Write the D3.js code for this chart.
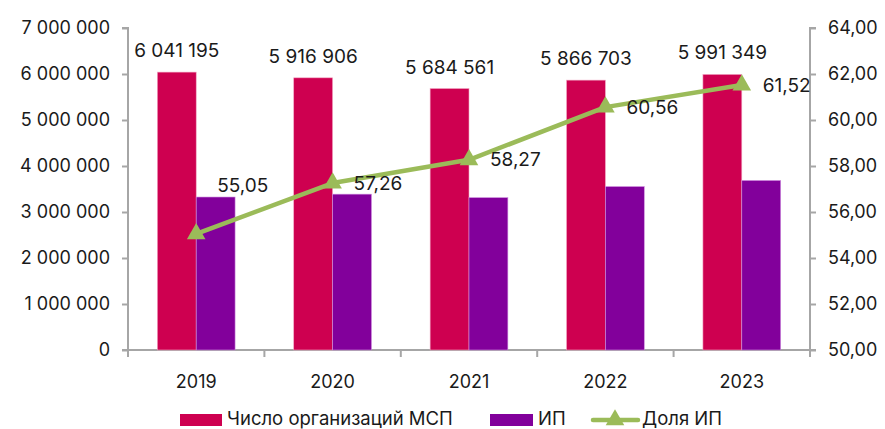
<!DOCTYPE html>
<html><head><meta charset="utf-8">
<script src="https://cdn.jsdelivr.net/npm/d3@7"></script>
<style>body{margin:0;background:#fff}svg{display:block}text{font-family:"Inter","Noto Sans",sans-serif;fill:#1a1a1a}</style>
</head><body><svg id="c" width="885" height="429"></svg>
<script>
const years = ["2019","2020","2021","2022","2023"];
const msp = [6041195, 5916906, 5684561, 5866703, 5991349];
const ip = [3325700, 3388000, 3312400, 3552900, 3685900];
const share = [55.05, 57.26, 58.27, 60.56, 61.52];
const leftTicks = [0,1000000,2000000,3000000,4000000,5000000,6000000,7000000];
const rightTicks = [50,52,54,56,58,60,62,64];
const seriesNames = ["Число организаций МСП","ИП","Доля ИП"];
const colors = {msp:"#CE0050", ip:"#82009B", line:"#9BBB59", axis:"#A6A6A6"};

const svg = d3.select("#c");
const L = 128, R = 810, T = 28, B = 350;
const x = d3.scaleBand().domain(years).range([L,R]).paddingInner(0.43).paddingOuter(0.215);
const xb = d3.scaleBand().domain(years).range([L,R]);
const yL = d3.scaleLinear().domain([0,7000000]).range([B,T]);
const yR = d3.scaleLinear().domain([50,64]).range([B,T]);
const sub = d3.scaleBand().domain(["msp","ip"]).range([0,x.bandwidth()]);
const fmtInt = v => d3.format(",")(v).replace(/,/g," ");
const fmtDec = v => d3.format(".2f")(v).replace(".",",");

// axes
const gl = svg.append("g").attr("transform",`translate(${L},0)`)
  .call(d3.axisLeft(yL).tickValues(leftTicks).tickSize(6).tickPadding(12).tickFormat(fmtInt));
const gr = svg.append("g").attr("transform",`translate(${R},0)`)
  .call(d3.axisRight(yR).tickValues(rightTicks).tickSize(6).tickPadding(12).tickFormat(fmtDec));
const gx = svg.append("g").attr("transform",`translate(0,${B})`)
  .call(d3.axisBottom(xb).tickSize(0).tickPadding(25));
[gl,gr,gx].forEach(g=>{
  g.selectAll("path.domain").attr("stroke",colors.axis).attr("stroke-width",2);
  g.selectAll(".tick line").attr("stroke",colors.axis).attr("stroke-width",2);
  g.selectAll(".tick text").style("font-size","18px").style("font-family",'"Inter","Noto Sans",sans-serif').attr("fill","#1a1a1a");
});
gl.select("path.domain").attr("d",`M-6,${B}H0V${T}H-6`);
gr.select("path.domain").attr("d",`M6,${B}H0V${T}H6`);
gx.select("path.domain").attr("d",`M${L},0H${R}`);
// category boundary ticks
svg.append("g").selectAll("line").data(d3.range(years.length+1)).join("line")
  .attr("x1",i=>L+i*xb.step()).attr("x2",i=>L+i*xb.step())
  .attr("y1",B).attr("y2",B+7).attr("stroke",colors.axis).attr("stroke-width",2);

// bars
const g = svg.append("g");
g.selectAll("rect.msp").data(years).join("rect").attr("class","msp")
  .attr("x",d=>x(d)+sub("msp")).attr("width",sub.bandwidth())
  .attr("y",(d,i)=>yL(msp[i])).attr("height",(d,i)=>B-yL(msp[i]))
  .attr("fill",colors.msp).attr("stroke","#f2a7c4").attr("stroke-width",0.6);
g.selectAll("rect.ip").data(years).join("rect").attr("class","ip")
  .attr("x",d=>x(d)+sub("ip")).attr("width",sub.bandwidth())
  .attr("y",(d,i)=>yL(ip[i])).attr("height",(d,i)=>B-yL(ip[i]))
  .attr("fill",colors.ip).attr("stroke","#d08fe0").attr("stroke-width",0.6);
g.selectAll("text.ml").data(years).join("text").attr("class","ml")
  .attr("x",d=>x(d)+sub("msp")+sub.bandwidth()/2).attr("y",(d,i)=>yL(msp[i])-15)
  .attr("text-anchor","middle").style("font-size","19px").text((d,i)=>fmtInt(msp[i]));

// line
const cx = d => xb(d)+xb.bandwidth()/2;
const line = d3.line().x((d,i)=>cx(years[i])).y(d=>yR(d));
svg.append("path").datum(share).attr("d",line).attr("fill","none")
  .attr("stroke",colors.line).attr("stroke-width",4.5).attr("stroke-linejoin","round");
const tri = d3.symbol().type(d3.symbolTriangle).size(150);
svg.append("g").selectAll("path").data(share).join("path")
  .attr("d",tri).attr("transform",(d,i)=>`translate(${cx(years[i])},${yR(d)})`)
  .attr("fill",colors.line);
svg.append("g").selectAll("text").data(share).join("text")
  .attr("x",(d,i)=>cx(years[i])+21).attr("y",(d,i)=>yR(d)+(i===0?-49:0))
  .attr("dy","0.35em").style("font-size","19px").text(d=>fmtDec(d));

// legend
const lg = svg.append("g").attr("transform","translate(0,419)");
lg.append("rect").attr("x",180).attr("y",-5).attr("width",42).attr("height",12).attr("fill",colors.msp);
lg.append("text").attr("x",227).attr("dy","0.35em").style("font-size","18.5px").text(seriesNames[0]);
lg.append("rect").attr("x",490).attr("y",-5).attr("width",43).attr("height",12).attr("fill",colors.ip);
lg.append("text").attr("x",538).attr("dy","0.35em").style("font-size","18.5px").text(seriesNames[1]);
lg.append("line").attr("x1",593).attr("x2",638).attr("y1",1).attr("y2",1)
  .attr("stroke",colors.line).attr("stroke-width",4.5).attr("stroke-linecap","round");
lg.append("path").attr("d",tri).attr("transform","translate(615,1)").attr("fill",colors.line);
lg.append("text").attr("x",642).attr("dy","0.35em").style("font-size","18.5px").text(seriesNames[2]);
</script></body></html>
